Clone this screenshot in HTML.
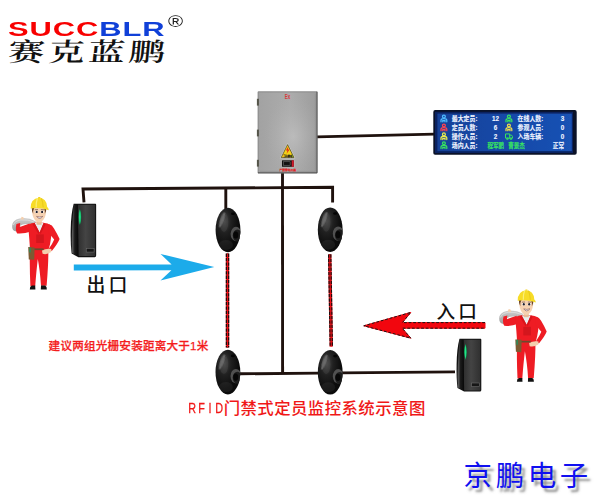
<!DOCTYPE html>
<html lang="zh">
<head>
<meta charset="utf-8">
<title>RFID门禁式定员监控系统示意图</title>
<style>
html,body{margin:0;padding:0;background:#fff;}
body{width:600px;height:500px;position:relative;overflow:hidden;font-family:"Liberation Sans","Noto Sans CJK SC",sans-serif;}
#stage{position:absolute;left:0;top:0;width:600px;height:500px;}
.t{position:absolute;white-space:nowrap;line-height:1;}
#logo-en{left:7.6px;top:18.5px;font-size:20.4px;font-weight:bold;letter-spacing:0.6px;transform-origin:0 0;transform:scaleX(1.515);color:#f80000;}
#logo-en b{color:#1040d8;}
#logo-r{left:167.6px;top:13.6px;font-size:15.8px;color:#222;transform-origin:0 0;transform:scaleX(1.3);}
#logo-cn{left:7.4px;top:40px;font-size:25.5px;font-weight:600;font-family:"Liberation Serif","Noto Serif CJK SC",serif;letter-spacing:2.8px;transform-origin:0 100%;transform:scaleX(1.42) skewX(-4deg);color:#111;}
#exit{left:86.6px;top:277.2px;font-size:18.9px;letter-spacing:3.1px;color:#111;font-weight:500;}
#enter{left:436.6px;top:302.6px;font-size:18.6px;letter-spacing:3px;color:#111;font-weight:500;}
#note{left:48.6px;top:340.4px;font-size:11.6px;font-weight:500;letter-spacing:0.2px;color:#f41c1c;-webkit-text-stroke:0.25px #f41c1c;}
#title{left:187.9px;top:400px;font-size:16.4px;letter-spacing:0.45px;color:#f01818;font-weight:500;}
#title span{display:inline-flex;justify-content:center;width:8.95px;letter-spacing:0;}
#title span i{font-style:normal;font-weight:normal;font-size:14.6px;display:block;transform:scaleX(.74);position:relative;top:-1.2px;-webkit-text-stroke:0.3px #f01818;}
#brand{left:463.6px;top:462.4px;font-size:28.4px;letter-spacing:3.7px;color:#1010f0;font-weight:400;text-shadow:3.5px 4px 2.5px rgba(95,95,95,.7);}
</style>
</head>
<body>
<svg id="stage" width="600" height="500" viewBox="0 0 600 500">
<defs>
  <linearGradient id="boxg" x1="0" y1="0" x2="1" y2="0">
    <stop offset="0" stop-color="#a2a2a2"/><stop offset="0.55" stop-color="#acacac"/><stop offset="1" stop-color="#9c9c9c"/>
  </linearGradient>
  <radialGradient id="boxh" cx="0.6" cy="0.55" r="0.5">
    <stop offset="0" stop-color="#c2c2c2" stop-opacity=".7"/><stop offset="1" stop-color="#b0b0b0" stop-opacity="0"/>
  </radialGradient>
  <linearGradient id="scr" x1="0" y1="0" x2="1" y2="0">
    <stop offset="0" stop-color="#124298"/><stop offset="0.45" stop-color="#1247a6"/><stop offset="1" stop-color="#1a52b4"/>
  </linearGradient>
  <filter id="soft" x="-5%" y="-10%" width="110%" height="120%"><feGaussianBlur stdDeviation="0.7"/></filter>
  <radialGradient id="sen" cx="0.35" cy="0.3" r="0.6">
    <stop offset="0" stop-color="#484848"/><stop offset="0.45" stop-color="#202020"/><stop offset="1" stop-color="#0b0b0b"/>
  </radialGradient>
  <linearGradient id="rdf" x1="0" y1="0" x2="1" y2="0">
    <stop offset="0" stop-color="#2e2e2e"/><stop offset="0.45" stop-color="#444"/><stop offset="1" stop-color="#303030"/>
  </linearGradient>
  <linearGradient id="sackg" x1="0" y1="0" x2="0" y2="1">
    <stop offset="0" stop-color="#cfcfcf"/><stop offset="1" stop-color="#9c9c9c"/>
  </linearGradient>
  <clipPath id="senc"><ellipse cx="0" cy="0" rx="12.4" ry="22.3"/></clipPath>
  <g id="sensor">
    <ellipse cx="0" cy="0" rx="12.4" ry="22.3" fill="url(#sen)"/>
    <g clip-path="url(#senc)">
      <ellipse cx="-4" cy="-8" rx="4.4" ry="10" fill="#6a6a6a" opacity=".2"/>
      <ellipse cx="-6" cy="-10" rx="1.8" ry="8" transform="rotate(20 -6 -10)" fill="#9a9a9a" opacity=".45" filter="url(#soft)"/>
      <ellipse cx="8" cy="4" rx="5.4" ry="7.2" fill="#505050"/>
      <ellipse cx="9.4" cy="5.6" rx="4.6" ry="6" fill="#1c1c1c"/>
      <ellipse cx="7.8" cy="5" rx="2.5" ry="3.6" fill="#060606"/>
      <ellipse cx="5" cy="-16.2" rx="2" ry="1.3" fill="#040404"/>
      <ellipse cx="-2" cy="15" rx="7" ry="5" fill="#444" opacity=".25"/>
    </g>
  </g>
  <linearGradient id="rds" x1="0" y1="0" x2="1" y2="0">
    <stop offset="0" stop-color="#6a6a6a"/><stop offset="0.45" stop-color="#1a1a1a"/><stop offset="1" stop-color="#080808"/>
  </linearGradient>
  <g id="reader">
    <path d="M3.2,0.2 L24.3,0.2 Q25,0.2 25,1.2 L25,51.5 Q25,53 23.6,53 L7.8,53 L1.2,49.5 Q0,40 0.3,26 Q0.5,10 3.2,0.2Z" fill="#111"/>
    <path d="M7.2,1.2 L24,1.2 L24,52 L7.8,52 Z" fill="url(#rdf)"/>
    <path d="M3.4,0.8 L7.2,1.2 L7.8,52 L1.6,49 Q0.6,30 3.4,0.8Z" fill="url(#rds)"/>
    <path d="M9.2,4.8 Q12,13 9.2,21.6 Q6.4,13 9.2,4.8Z" fill="#0d7a44"/>
    <path d="M9.2,5.8 Q11,13 9.2,20.6 Q7.4,13 9.2,5.8Z" fill="#22e486"/>
    <rect x="15.4" y="44.4" width="7.6" height="3.6" fill="#161616" stroke="#6a6a6a" stroke-width=".6"/>
  </g>
  <g id="worker">
    <!-- sack -->
    <path d="M12.1,225.4 Q12.2,219.8 19.5,218.1 Q28,216.6 35.8,221 L35.4,225 Q27.5,223 22.8,224 Q18,225.4 16.6,231.2 Q11.8,231 12.1,225.4Z" fill="url(#sackg)"/>
    <path d="M13.4,224.6 Q14.4,220.6 21,219.5 Q28,218.8 34.8,221.8" fill="none" stroke="#dcdcdc" stroke-width=".9"/>
    <!-- raised hand -->
    <path d="M20.6,219 L21.6,216.3 L23.4,216.8 L24,219.2Z" fill="#f4cfae"/>
    <!-- left arm (raised) -->
    <path d="M29.5,223 Q22,225.6 19.8,226.4 L20.2,222.6 L16.4,223.6 Q15,230 17.2,233 Q24,233.6 31,231Z" fill="#ee1c24"/>
    <!-- legs -->
    <path d="M30,249 L48.3,249 Q48.6,262 46.6,285.4 L41,285.4 Q40,270 37.8,258.5 Q36.4,270 35.2,285.6 L30.4,285.6 Q29.4,265 30,249Z" fill="#ee1c24"/>
    <!-- torso -->
    <path d="M28,224.4 Q32,222.2 35.2,222.4 L43.2,222.4 Q48,222.6 51,225 Q52.6,236 48.4,250 L30,250 Q29.6,240 28,224.4Z" fill="#ee1c24"/>
    <!-- right arm -->
    <path d="M48.6,223.6 Q52.4,224.6 54,228 Q57.6,234 59.6,238.6 Q58,243 51.8,250.6 L48.8,248.4 Q52.6,243 54.2,239 Q51,235 48,232Z" fill="#ee1c24"/>
    <!-- right hand -->
    <path d="M42,250.2 Q46,247.8 51.4,248.6 L51.2,251.6 Q47,254.6 42.6,253.4Z" fill="#f4cfae"/>
    <!-- chest pocket -->
    <rect x="36.2" y="234" width="7.6" height="8.6" fill="#d3161d"/>
    <!-- undershirt -->
    <path d="M34.6,222.6 L43.6,222.6 L39.6,232Z" fill="#e8eef0"/>
    <path d="M34.4,222.4 L39.6,232.2 L38.4,233.6 L32.6,224Z" fill="#d8151c"/>
    <path d="M43.8,222.4 L39.6,232.2 L40.6,233.6 L45.6,224Z" fill="#d8151c"/>
    <!-- neck -->
    <rect x="36.6" y="219" width="5" height="5.4" fill="#e9bd98"/>
    <!-- belt + pouch -->
    <rect x="29.6" y="248" width="14" height="1.7" fill="#6b4a2e"/>
    <path d="M28.2,246.6 L34.6,247 L34.2,259.4 L28.8,259Z" fill="#7c5a32"/>
    <rect x="29.2" y="247" width="1.6" height="5" fill="#2f8a5a"/>
    <!-- shoes -->
    <path d="M29.8,289 Q29.6,286 32,285.2 L35.2,285.2 L35.4,289Z" fill="#111"/>
    <path d="M40.8,289 L41,285.2 L45.2,285.2 Q47,286.4 46.8,289Z" fill="#111"/>
    <!-- head -->
    <path d="M32,206 L46,206 Q46.6,213 44.6,217.4 Q42,222.2 39.2,222.2 Q35.8,222 33.6,217.4 Q31.6,213 32,206Z" fill="#f6d2b2"/>
    <path d="M31.8,207 L34.4,207 Q32.8,210 33.2,213.4 Q31.6,211 31.8,207Z" fill="#6a4326"/>
    <path d="M46.2,207 L43.8,207 Q45.2,210 44.8,213.4 Q46.6,211 46.2,207Z" fill="#6a4326"/>
    <ellipse cx="36.5" cy="211.4" rx="1.5" ry="1.4" fill="#fff"/>
    <ellipse cx="42.3" cy="211.4" rx="1.5" ry="1.4" fill="#fff"/>
    <ellipse cx="36.7" cy="211.5" rx="1.05" ry="1.2" fill="#1e1e2c"/>
    <ellipse cx="42.1" cy="211.5" rx="1.05" ry="1.2" fill="#1e1e2c"/>
    <path d="M34.8,209.4 L38,209.2 M40.8,209.2 L44,209.4" stroke="#5a3a20" stroke-width=".6" fill="none"/>
    <path d="M36.6,216 Q39.5,220.2 42.8,216 Q39.6,217.2 36.6,216Z" fill="#f4f8ff" stroke="#6a3a40" stroke-width=".5"/>
    <!-- helmet -->
    <path d="M30.6,208 Q30.4,198.4 39,197.4 Q46.6,197.8 47.2,206.6 Q48.6,207.6 48.8,209.8 Q40,206.6 30.6,208Z" fill="#f7dc28"/>
    <path d="M38,197.6 L38.4,196.7 L40.2,196.7 L40.6,197.6Z" fill="#f3d420"/>
    <path d="M37.4,197.8 Q36,202 36.2,207" fill="none" stroke="#fbef7a" stroke-width="1.2"/>
    <path d="M41.4,197.8 Q43,202 43.2,207" fill="none" stroke="#e4c414" stroke-width=".8"/>
  </g>
</defs>

<!-- wires -->
<g fill="none" stroke="#1f120e" stroke-width="2.9" stroke-linejoin="miter">
  <path d="M84,202.4 L83,189 L332.6,187.3 L332.6,202.4"/>
  <path d="M225.8,188 L225.8,209"/>
  <path d="M282.5,172.5 L282.6,373.4"/>
  <path d="M240,373.8 L319,373.1"/>
  <path d="M342,372.9 L455,371.9"/>
  <path d="M317,136.8 L434,134.2" stroke-width="2.7"/>
</g>

<!-- beam lines -->
<g>
  <path d="M227.5,253.6 L227.5,347.4" stroke="#e8141c" stroke-width="3.4"/>
  <path d="M227.5,253.6 L227.5,347.4" stroke="#1a0d0d" stroke-width="3.4" stroke-dasharray="3.3 1.1"/>
  <path d="M227.5,253.6 L227.5,347.4" stroke="#f01018" stroke-width="1.05"/>
  <path d="M329.7,254.4 L331.3,346.6" stroke="#e8141c" stroke-width="3.4"/>
  <path d="M329.7,254.4 L331.3,346.6" stroke="#1a0d0d" stroke-width="3.4" stroke-dasharray="3.3 1.1"/>
  <path d="M329.7,254.4 L331.3,346.6" stroke="#f01018" stroke-width="1.05"/>
</g>

<!-- sensors -->
<use href="#sensor" x="228" y="230"/>
<use href="#sensor" x="330.2" y="229.7"/>
<use href="#sensor" x="227.9" y="372.1"/>
<use href="#sensor" x="330.2" y="372.3"/>

<!-- control box -->
<g>
  <rect x="257.8" y="91.5" width="59.6" height="81.8" fill="url(#boxg)"/>
  <rect x="258.4" y="92.1" width="58.4" height="80.6" fill="url(#boxh)"/>
  <path d="M258.2,173 L258.2,91.9 L317,91.9" fill="none" stroke="#888" stroke-width=".9"/>
  <path d="M258,172.9 L317,172.9 L317,91.8" fill="none" stroke="#484848" stroke-width="1"/>
  <path d="M260,171.4 L315.4,171.4 L315.4,93.6" fill="none" stroke="#8e8e8e" stroke-width=".8" opacity=".8"/>
  <rect x="256.9" y="98.8" width="2" height="6.8" fill="#55554a"/>
  <rect x="256.9" y="129.6" width="2" height="6.8" fill="#55554a"/>
  <rect x="256.9" y="159.8" width="2" height="6.8" fill="#55554a"/>
  <text x="284.8" y="99" font-family="Liberation Sans, sans-serif" font-size="6.6" font-weight="bold" fill="#d83a3a" textLength="5.6" lengthAdjust="spacingAndGlyphs">Ex</text>
  <path d="M287.6,143.6 L294.9,158.1 L280.3,158.1Z" fill="#d6d6d0" stroke="#d6d6d0" stroke-width=".6" stroke-linejoin="round"/>
  <path d="M287.6,144.6 L294,157.6 L281.2,157.6Z" fill="#f4d31a" stroke="#2a2410" stroke-width=".6" stroke-linejoin="round"/>
  <path d="M288.3,146.6 L285.9,150.6 L287.5,150.6 L286.5,153.8 L289.7,149.4 L288,149.4Z" fill="#e0281a"/>
  <text x="283.2" y="156.7" font-family="Liberation Sans, Noto Sans CJK SC, sans-serif" font-size="2.3" font-weight="bold" fill="#1a1a1a" stroke="#1a1a1a" stroke-width=".15">当心触电</text>
  <rect x="281.4" y="159.8" width="12.9" height="7.4" fill="#c8c8c4"/>
  <rect x="281.9" y="160.3" width="11.9" height="6.5" fill="#121212"/>
  <rect x="291.7" y="160.3" width="2.1" height="6.5" fill="#d01c2c"/>
  <rect x="283.3" y="161.8" width="6.8" height="3.4" fill="none" stroke="#8c8c8c" stroke-width=".45"/>
  <text x="279.4" y="171.2" font-family="Liberation Sans, Noto Sans CJK SC, sans-serif" font-size="2.75" font-weight="bold" fill="#e02626" stroke="#e02626" stroke-width=".15">严禁带电开盖</text>
</g>

<!-- LED display -->
<g>
  <rect x="433.3" y="110.1" width="143.4" height="44.6" rx="1.8" fill="#0a1228"/>
  <rect x="435" y="111.8" width="138" height="41.2" fill="#0b2260"/>
  <rect x="437.4" y="113.6" width="134.4" height="37.6" fill="url(#scr)" filter="url(#soft)"/>
  <g transform="translate(0,-0.5)" font-family="Liberation Sans, Noto Sans CJK SC, sans-serif" font-size="6.3" font-weight="bold" fill="#f6f8ff" stroke="#dfe8ff" stroke-width=".22" stroke-opacity=".7">
    <text x="451.8" y="121.5" textLength="25.6" lengthAdjust="spacingAndGlyphs">最大定员:</text>
    <text x="451.8" y="130.4" textLength="25.6" lengthAdjust="spacingAndGlyphs">定员人数:</text>
    <text x="451.8" y="139.3" textLength="25.6" lengthAdjust="spacingAndGlyphs">操作人员:</text>
    <text x="451.8" y="148.2" textLength="25.6" lengthAdjust="spacingAndGlyphs">场内人员:</text>
    <text x="517.6" y="121.5" textLength="25.6" lengthAdjust="spacingAndGlyphs">在线人数:</text>
    <text x="517.6" y="130.4" textLength="25.6" lengthAdjust="spacingAndGlyphs">参观人员:</text>
    <text x="517.6" y="139.3" textLength="25.6" lengthAdjust="spacingAndGlyphs">入场车辆:</text>
    <text x="495.6" y="121.5" text-anchor="middle">12</text>
    <text x="495.6" y="130.4" text-anchor="middle">6</text>
    <text x="495.6" y="139.3" text-anchor="middle">2</text>
    <text x="562.6" y="121.5" text-anchor="middle">3</text>
    <text x="562.6" y="130.4" text-anchor="middle">0</text>
    <text x="562.6" y="139.3" text-anchor="middle">0</text>
    <text x="552.8" y="148.2" textLength="11.4" lengthAdjust="spacingAndGlyphs">正常</text>
    <text x="487.4" y="148.2" fill="#38e262" stroke="#38e262" textLength="16.6" lengthAdjust="spacingAndGlyphs">程军鹏</text>
    <text x="508.2" y="148.2" fill="#38e262" stroke="#38e262" textLength="16.6" lengthAdjust="spacingAndGlyphs">曹景杰</text>
  </g>
  <g transform="translate(-0.3,-0.6)" fill="none" stroke-width="1.25" stroke-linecap="round">
    <g stroke="#4fbcff"><circle cx="444.2" cy="117.2" r="1.45"/><path d="M441.3,122.4 L441.3,120.9 Q441.3,119.2 444.2,119.2 Q447.1,119.2 447.1,120.9 L447.1,122.4 M443.1,122.4 L443.1,121.2 L445.3,121.2 L445.3,122.4"/></g>
    <g stroke="#ff4452"><circle cx="444.2" cy="126.1" r="1.45"/><path d="M441.3,131.3 L441.3,129.8 Q441.3,128.1 444.2,128.1 Q447.1,128.1 447.1,129.8 L447.1,131.3 M443.1,131.3 L443.1,130.1 L445.3,130.1 L445.3,131.3"/></g>
    <g stroke="#eeee4c"><circle cx="444.2" cy="135.0" r="1.45"/><path d="M441.3,140.2 L441.3,138.7 Q441.3,137.0 444.2,137.0 Q447.1,137.0 447.1,138.7 L447.1,140.2 M443.1,140.2 L443.1,139.0 L445.3,139.0 L445.3,140.2"/></g>
    <g stroke="#38e25e"><circle cx="444.2" cy="143.9" r="1.45"/><path d="M441.3,149.1 L441.3,147.6 Q441.3,145.9 444.2,145.9 Q447.1,145.9 447.1,147.6 L447.1,149.1 M443.1,149.1 L443.1,147.9 L445.3,147.9 L445.3,149.1"/></g>
    <g stroke="#38e25e"><circle cx="509.2" cy="117.2" r="1.45"/><path d="M506.3,122.4 L506.3,120.9 Q506.3,119.2 509.2,119.2 Q512.1,119.2 512.1,120.9 L512.1,122.4 M508.1,122.4 L508.1,121.2 L510.3,121.2 L510.3,122.4"/></g>
    <g stroke="#eedc4c"><circle cx="509.2" cy="126.1" r="1.45"/><path d="M506.3,131.3 L506.3,129.8 Q506.3,128.1 509.2,128.1 Q512.1,128.1 512.1,129.8 L512.1,131.3 M508.1,131.3 L508.1,130.1 L510.3,130.1 L510.3,131.3"/></g>
    <g stroke="#38e25e" stroke-width="1"><path d="M506.2,134.5 L510,134.5 L510,138.7 L506.2,138.7Z M510,135.7 L511.8,135.7 L512.8,137.1 L512.8,138.7 L510,138.7"/><circle cx="507.6" cy="139.4" r=".8"/><circle cx="511.2" cy="139.4" r=".8"/></g>
  </g>
</g>

<!-- card readers -->
<use href="#reader" transform="translate(70.4,203.6) scale(1.03,1.01)"/>
<use href="#reader" transform="translate(456.3,338.6) scale(1,1)"/>

<!-- exit arrow (blue) -->
<path d="M73.8,264.6 L171.6,264.4 L160.5,253.9 L214.3,267 L160.5,280.6 L171.4,270.2 L73.8,270.5Z" fill="#1cabea"/>

<!-- entrance arrow (red) -->
<path d="M485,322.6 L402.4,322.6 L410.8,312.4 L363.8,325.8 L410.8,338.2 L402.2,328.2 L485,328.2Z" fill="#f2060e" stroke="#f2060e" stroke-width="1"/>
<path d="M485,322.6 L402.4,322.6 L410.8,312.4 L363.8,325.8 L410.8,338.2 L402.2,328.2 L485,328.2" fill="none" stroke="#1c1414" stroke-width="1" stroke-dasharray="2.8 1.8"/>

<!-- workers -->
<use href="#worker" x="0" y="0.4"/>
<use href="#worker" x="487.1" y="92.8"/>
</svg>

<div class="t" id="logo-en">SUCC<b>BLR</b></div>
<div class="t" id="logo-r">®</div>
<div class="t" id="logo-cn">赛克蓝鹏</div>
<div class="t" id="exit">出口</div>
<div class="t" id="enter">入口</div>
<div class="t" id="note">建议两组光栅安装距离大于1米</div>
<div class="t" id="title"><span><i>R</i></span><span><i>F</i></span><span><i>I</i></span><span><i>D</i></span>门禁式定员监控系统示意图</div>
<div class="t" id="brand">京鹏电子</div>
</body>
</html>
